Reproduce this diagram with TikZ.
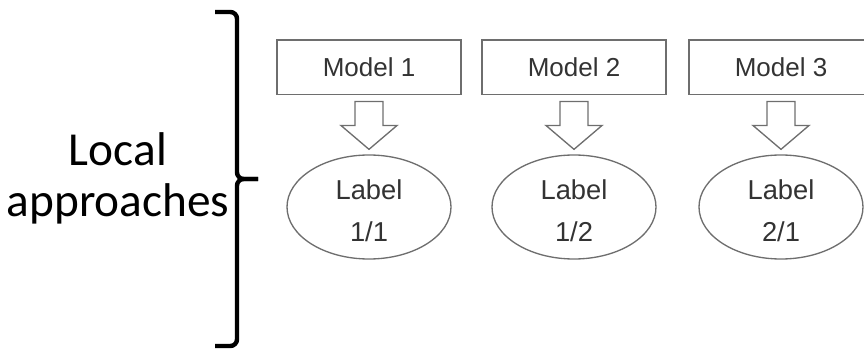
\documentclass[tikz,border=0pt]{standalone}
\usepackage{fontspec}
\setmainfont{Liberation Sans}
\newfontfamily\calibri{Carlito}
\usetikzlibrary{shapes.geometric,calc}
\definecolor{boxgray}{HTML}{6E6E6E}
\definecolor{txtgray}{HTML}{333333}

\tikzset{
  modelbox/.style={draw=boxgray,line width=1pt,text=txtgray,
    minimum width=138pt,minimum height=41pt,font=\fontsize{19.5}{23}\selectfont},
  labelell/.style={ellipse,draw=boxgray,line width=1pt,text=txtgray,align=center,
    minimum width=123pt,minimum height=78pt,inner sep=0pt,
    font=\fontsize{20.5}{31.5}\selectfont},
  fatarrow/.style={draw=boxgray,line width=1pt,line join=miter},
  bigtext/.style={font=\calibri\fontsize{35.5}{40}\selectfont,anchor=base,inner sep=0pt}
}
% hollow block arrow from a box down to an ellipse
\newcommand{\hollowarrow}[2]{%
  \draw[fatarrow] ($(#1.south)+(-14,6)$) -- ++(28,0) -- ++(0,24) -- ++(14,0)
    -- ($(#2.north)+(0,-5)$) -- ($(#1.south)+(-28,30)$) -- ++(14,0) -- cycle;}

\begin{document}
\begin{tikzpicture}[x=0.75pt,y=-0.75pt]
  \useasboundingbox (0,0) rectangle (864,349);

  \node[modelbox] (m1) at (369,67.5) {Model 1};
  \node[modelbox] (m2) at (574,67.5) {Model 2};
  \node[modelbox] (m3) at (781,67.5) {Model 3};

  \node[labelell] (l1) at (369,207) {};
  \node[labelell] (l2) at (574,207) {};
  \node[labelell] (l3) at (781,207) {};
  \node[labelell,draw=none,minimum size=0pt] (t1) at (369,211) {Label\\1/1};
  \node[labelell,draw=none,minimum size=0pt] (t2) at (574,211) {Label\\1/2};
  \node[labelell,draw=none,minimum size=0pt] (t3) at (781,211) {Label\\2/1};

  \hollowarrow{m1}{l1}
  \hollowarrow{m2}{l2}
  \hollowarrow{m3}{l3}

  % the brace
  \coordinate (btop) at (215,12); \coordinate (bbot) at (215,346);
  \coordinate (btip) at (258,179);
  \draw[line width=3.3pt,rounded corners=5pt] (btop) -- (237,12) -- (237,179) -- (btip);
  \draw[line width=3.3pt,rounded corners=5pt] (btip) -- (237,179) -- (237,346) -- (bbot);

  \node[bigtext] (loc) at (118,166) {Local};
  \node[bigtext] (appr) at (118,217) {approaches};
\end{tikzpicture}
\end{document}
